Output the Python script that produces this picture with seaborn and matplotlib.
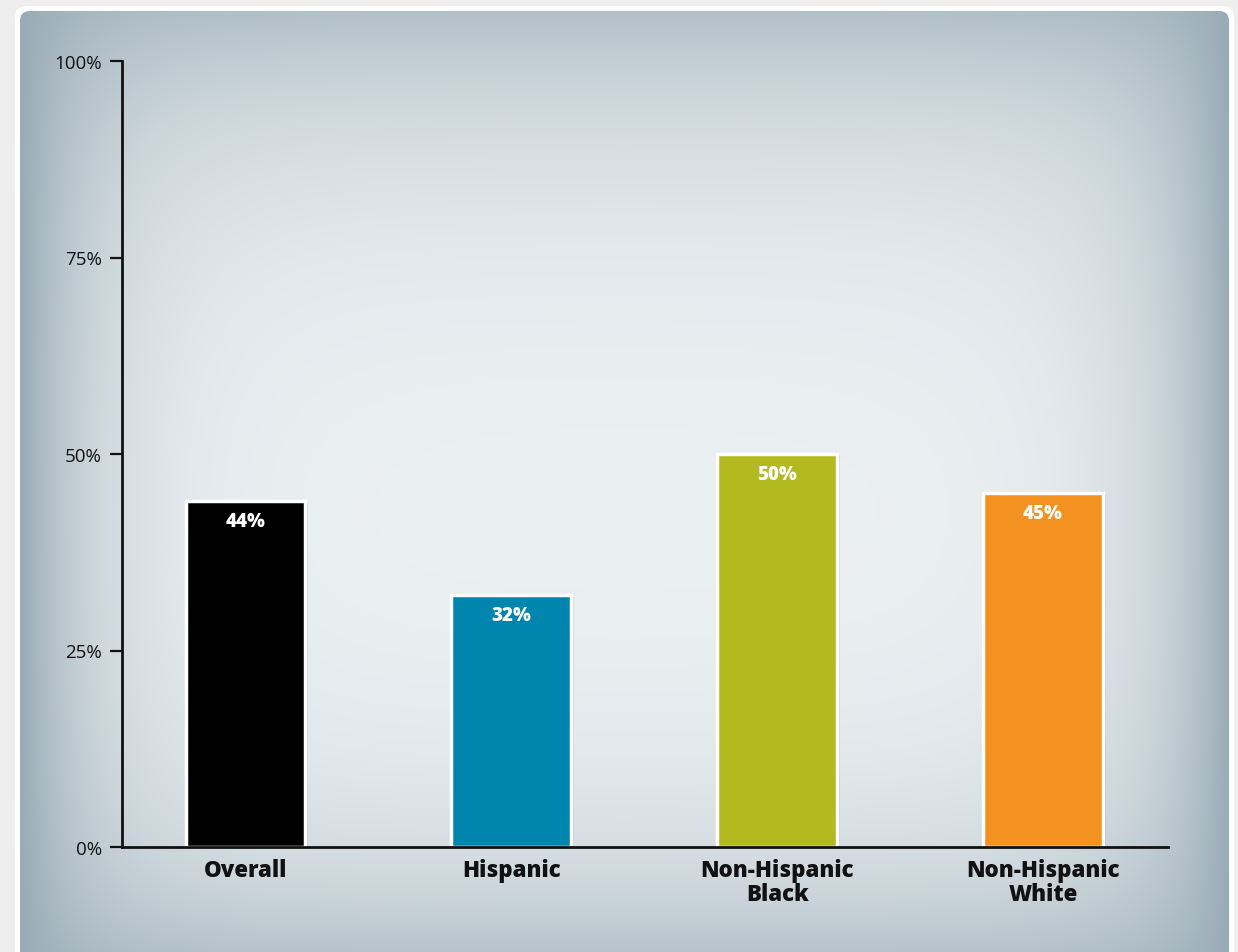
import numpy as np
import pandas as pd
import matplotlib
matplotlib.use("Agg")
import matplotlib.pyplot as plt
from matplotlib.patches import FancyBboxPatch
import matplotlib.patheffects as pe
import seaborn as sns

# Share of each group (percent)
categories = ["Overall", "Hispanic", "Non-Hispanic\nBlack", "Non-Hispanic\nWhite"]
values = [44, 32, 50, 45]
bar_colors = ["#000000", "#0086ae", "#b2ba1f", "#f39220"]
y_ticks = [0, 25, 50, 75, 100]
y_tick_labels = ["0%", "25%", "50%", "75%", "100%"]

sns.set_theme(style="ticks")
plt.rcParams["font.family"] = ["Open Sans", "DejaVu Sans"]

W, H = 1238, 953
fig = plt.figure(figsize=(W / 100, H / 100), dpi=100, facecolor="#eeeeee")

# Backdrop: white card border and a panel that darkens towards its edges
bg = fig.add_axes([0, 0, 1, 1], zorder=-5)
bg.set_xlim(0, W)
bg.set_ylim(H, 0)
bg.axis("off")

card = FancyBboxPatch((15, 7), 1219, 990, boxstyle="round,pad=0,rounding_size=12",
                      facecolor="white", edgecolor="none",
                      path_effects=[pe.SimplePatchShadow(offset=(0, -1), alpha=0.12, shadow_rgbFace="k"),
                                    pe.Normal()])
bg.add_patch(card)

yy, xx = np.mgrid[0:H, 0:W].astype(float)
side = np.minimum(xx - 20, 1229 - xx).clip(0)
a_side = np.exp(-side / 75.0)
a_top = 0.7 * np.exp(-(yy - 12).clip(0) / 150.0)
a_bot = 0.65 * np.exp(-(H - yy).clip(0) / 130.0)
t = 1 - (1 - a_side) * (1 - a_top) * (1 - a_bot)
center = np.array([0xef, 0xf3, 0xf5]) / 255.0
edge = np.array([0x98, 0xaa, 0xb5]) / 255.0
img = center[None, None, :] + (edge - center)[None, None, :] * t[..., None]
panel = FancyBboxPatch((20, 12), 1209, 990, boxstyle="round,pad=0,rounding_size=10",
                       facecolor="none", edgecolor="none")
bg.add_patch(panel)
im = bg.imshow(img, extent=(0, W, H, 0), interpolation="bilinear", zorder=1)
im.set_clip_path(panel)

# Main chart
ax = fig.add_axes([122 / W, 1 - 848 / H, (1168 - 122) / W, (848 - 62) / H])
ax.patch.set_alpha(0)

df = pd.DataFrame({"group": categories, "pct": values})
sns.barplot(data=df, x="group", y="pct", hue="group", palette=bar_colors,
            saturation=1, dodge=False, legend=False, errorbar=None, width=0.45,
            edgecolor="white", linewidth=2.5, ax=ax, zorder=3)

for p in ax.patches:
    p.set_path_effects([pe.SimplePatchShadow(offset=(2, -1), alpha=0.12, shadow_rgbFace="k"),
                        pe.Normal()])

for i, v in enumerate(values):
    ax.annotate(f"{v}%", xy=(i, v), xytext=(0, -7), textcoords="offset points",
                ha="center", va="top", color="white", fontsize=13.5,
                fontweight=800, zorder=5)

ax.set_xlim(-0.464, 3.47)
ax.set_ylim(0, 100)
ax.set_yticks(y_ticks)
ax.set_yticklabels(y_tick_labels, fontsize=13.5, color="#111111")
ax.set_xlabel("")
ax.set_ylabel("")
ax.set_xticks(range(len(categories)))
ax.set_xticklabels(categories, fontsize=16, fontweight=800, color="#111111",
                   linespacing=1.0)
ax.tick_params(axis="x", length=0, pad=8)
ax.tick_params(axis="y", length=9, width=1.6, color="#111111", pad=5.5)

for s in ["top", "right"]:
    ax.spines[s].set_visible(False)
for s in ["left", "bottom"]:
    ax.spines[s].set_linewidth(2)
    ax.spines[s].set_color("#111111")
    ax.spines[s].set_zorder(4)

fig.savefig("out.png", dpi=100, facecolor=fig.get_facecolor())
